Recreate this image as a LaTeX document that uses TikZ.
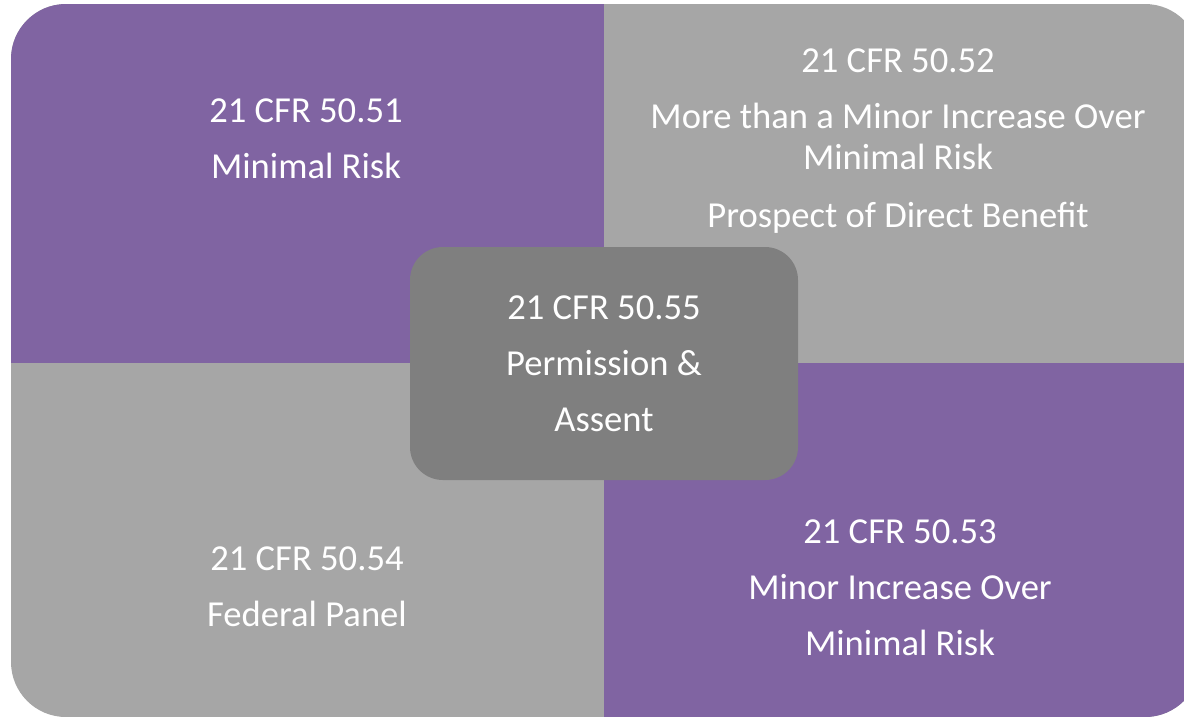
\documentclass[tikz,border=0pt]{standalone}
\usepackage{fontspec}
\setmainfont{Carlito}
\usepackage{tikz}
\usetikzlibrary{positioning}
\definecolor{regpurple}{RGB}{128,100,162}
\definecolor{reggray}{RGB}{166,166,166}
\definecolor{hubgray}{RGB}{127,127,127}
\tikzset{
  quadtext/.style={text=white, align=center, inner sep=0pt, anchor=north,
    font=\fontsize{18.3pt}{28pt}\selectfont},
  hubbox/.style={fill=hubgray, rounded corners=16.5pt, minimum width=194pt,
    minimum height=116.5pt, inner sep=0pt, text=white, align=center,
    font=\fontsize{18.3pt}{28pt}\selectfont}
}

\begin{document}
\begin{tikzpicture}[x=0.5pt, y=-0.5pt]
  % --- Definitions ---
  \def\mx{604} % vertical split
  \def\my{363} % horizontal split

  \useasboundingbox (0,0) rectangle (1184,720);
  \clip (0,0) rectangle (1184,720);

  % --- 1. The four quadrants, cut to the rounded frame ---
  \begin{scope}
    \clip[rounded corners=27.5pt] (11,4) rectangle (1200,717);
    \fill[reggray] (11,4) rectangle (1200,717);
    \fill[regpurple] (11,4) rectangle (\mx,\my);      % Top left
    \fill[regpurple] (\mx,\my) rectangle (1200,717);  % Bottom right
  \end{scope}

  % --- 2. Quadrant labels ---
  \node[quadtext] (tl) at (306,98.5) {21 CFR 50.51\\Minimal Risk};
  \node[quadtext] (tr) at (898,48.5) {21 CFR 50.52\\More than a Minor Increase Over\\[-7.5pt]Minimal Risk\\[1pt]Prospect of Direct Benefit};
  \node[quadtext] (bl) at (307,546.5) {21 CFR 50.54\\Federal Panel};
  \node[quadtext] (br) at (900,519.5) {21 CFR 50.53\\Minor Increase Over\\Minimal Risk};

  % --- 3. Centre box ---
  \node[hubbox] (hub) at (\mx,363.5) {21 CFR 50.55\\Permission \&\\Assent};
\end{tikzpicture}
\end{document}
